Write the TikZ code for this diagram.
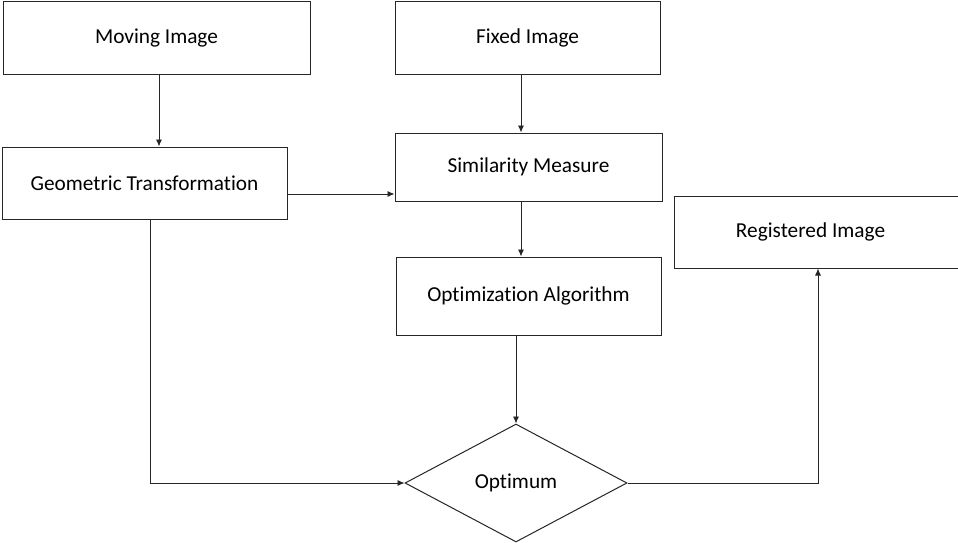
\documentclass[tikz,border=0pt]{standalone}
\usepackage{fontspec}
\setmainfont{Carlito}[Ligatures=NoCommon]
\usetikzlibrary{shapes.geometric,arrows.meta}
\begin{document}
\begin{tikzpicture}[x=1pt,y=-1pt,
  txt/.style={font=\fontsize{21.3}{24}\selectfont},
  box/.style={draw=black!85,line width=1pt,rectangle,inner sep=0pt,txt},
  dia/.style={draw=black!85,line width=1pt,diamond,inner sep=0pt,txt},
  arr/.style={draw=black!85,line width=0.9pt,-{Latex[length=7pt,width=6pt]}}]
\useasboundingbox[fill=white] (0,0) rectangle (958,543);
\clip (0,0) rectangle (958,543);
\node[box,minimum width=307pt,minimum height=72pt] (mov) at (156.5,38) {Moving Image};
\node[box,minimum width=265pt,minimum height=72pt] (fix) at (527.5,38) {Fixed Image};
\node[box,minimum width=285pt,minimum height=72pt] (geo) at (144.5,183) {Geometric Transformation};
\node[box,minimum width=267pt,minimum height=68pt] (sim) at (528.5,167) {Similarity Measure};
\node[box,minimum width=288pt,minimum height=72pt] (reg) at (818,232) {};
\node[txt,inner sep=0pt] (regt) at (810.5,232) {Registered Image};
\node[box,minimum width=265pt,minimum height=78pt] (opt) at (528.5,296) {Optimization Algorithm};
\node[dia,minimum width=222pt,minimum height=118pt] (optm) at (516,483) {Optimum};
\draw[arr] ([xshift=2.5pt]mov.south) -- ([xshift=2.5pt]mov.south |- geo.north);
\draw[arr] ([xshift=-6.5pt]fix.south) -- ([xshift=-6.5pt]fix.south |- sim.north);
\draw[arr] ([yshift=-11pt]geo.east) -- ([yshift=-11pt]geo.east -| sim.west);
\draw[arr] ([xshift=-7.5pt]sim.south) -- ([xshift=-7.5pt]sim.south |- opt.north);
\draw[arr] (opt.south -| optm.north) -- (optm.north);
\draw[arr] ([xshift=5.5pt]geo.south) |- (optm.west);
\draw[arr] (optm.east) -| (reg.south);
\end{tikzpicture}
\end{document}
